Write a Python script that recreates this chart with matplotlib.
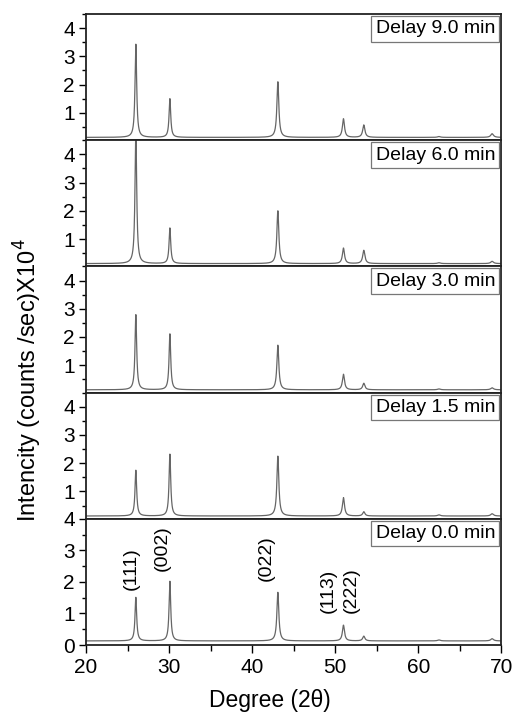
import matplotlib
matplotlib.use("Agg")
import matplotlib.pyplot as plt
import numpy as np
from matplotlib.ticker import MultipleLocator, FixedLocator

plt.rcParams['font.family'] = ['Liberation Sans', 'DejaVu Sans']

# peak positions (2theta), half widths and heights (x10^4 counts/sec)
peak_pos = [26.0, 30.1, 43.1, 51.0, 53.45, 62.5, 68.9]
peak_hw = [0.12, 0.12, 0.14, 0.15, 0.16, 0.20, 0.20]
delays = ["Delay 9.0 min", "Delay 6.0 min", "Delay 3.0 min", "Delay 1.5 min", "Delay 0.0 min"]
heights = [
    [3.43, 1.50, 2.10, 0.79, 0.57, 0.16, 0.26],
    [4.90, 1.39, 2.00, 0.68, 0.60, 0.16, 0.21],
    [2.79, 2.11, 1.71, 0.68, 0.36, 0.16, 0.20],
    [1.75, 2.32, 2.25, 0.78, 0.28, 0.17, 0.21],
    [1.51, 2.02, 1.67, 0.63, 0.28, 0.16, 0.20],
]
baseline = 0.13
hkl = ["(111)", "(002)", "(022)", "(113)", "(222)"]
hkl_x = [25.5, 29.2, 41.7, 49.2, 51.9]
hkl_y = [2.43, 3.06, 2.74, 1.73, 1.73]

two_theta = np.linspace(20, 70, 5001)

fig, axes = plt.subplots(5, 1, figsize=(5.12, 7.19), dpi=100, sharex=True)
fig.subplots_adjust(left=0.168, right=0.979, top=0.9805, bottom=0.1029, hspace=0)

for i, ax in enumerate(axes):
    y = np.full_like(two_theta, baseline)
    for x0, g, h in zip(peak_pos, peak_hw, heights[i]):
        y += (h - baseline) * g**2 / ((two_theta - x0)**2 + g**2)
    ax.plot(two_theta, y, color='#666666', lw=0.9)
    ax.set_xlim(20, 70)
    if i < 4:
        ax.set_ylim(0.03, 4.5)
        ax.yaxis.set_major_locator(FixedLocator([1, 2, 3, 4]))
        ax.tick_params(axis='x', which='both', bottom=False, labelbottom=False)
    else:
        ax.set_ylim(0, 4.0)
        ax.yaxis.set_major_locator(FixedLocator([0, 1, 2, 3, 4]))
    ax.yaxis.set_minor_locator(MultipleLocator(0.5))
    ax.tick_params(axis='y', which='major', direction='out', length=5, width=1, labelsize=15, pad=3)
    ax.tick_params(axis='y', which='minor', direction='out', length=3, width=1)
    for s in ax.spines.values():
        s.set_linewidth(1.3)
        s.set_color('#222222')
    ax.text(0.985, 0.95, delays[i], transform=ax.transAxes, ha='right', va='top', fontsize=14,
            bbox=dict(boxstyle='square,pad=0.22', fc='white', ec='#777777', lw=0.9))

bot = axes[-1]
bot.xaxis.set_major_locator(MultipleLocator(10))
bot.xaxis.set_minor_locator(MultipleLocator(5))
bot.tick_params(axis='x', which='major', direction='out', length=6, width=1, labelsize=15)
bot.tick_params(axis='x', which='minor', direction='out', length=4, width=1)
for lab, xx, yy in zip(hkl, hkl_x, hkl_y):
    bot.text(xx, yy, lab, rotation=90, ha='center', va='center', fontsize=14)

fig.text(0.055, 0.471, r"Intencity (counts /sec)X10$^4$", rotation=90, ha='center', va='center', fontsize=17)
fig.text(0.527, 0.026, "Degree (2\u03b8)", ha='center', va='center', fontsize=16.5)

plt.savefig("out.png", dpi=100)
